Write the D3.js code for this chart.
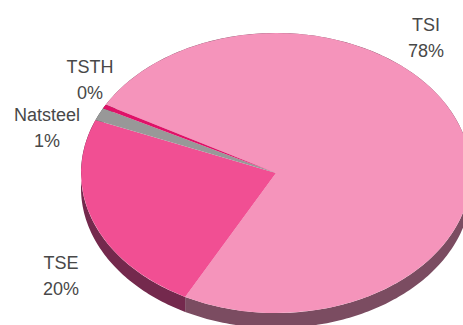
<!DOCTYPE html>
<html>
<head>
<meta charset="utf-8">
<style>
  html, body { margin: 0; padding: 0; background: #fff; overflow: hidden; }
  svg { display: block; }
  text { font-family: "Liberation Sans", Arial, sans-serif; font-size: 18px; fill: #484848; text-anchor: middle; }
</style>
<script src="https://cdn.jsdelivr.net/npm/d3@7"></script>
</head>
<body>
<script>
// Shareholding split, listed in drawing order around the pie
const companies = ["TSI", "TSE", "Natsteel", "TSTH"];
const shares = [78, 20, 1.4, 0.45];
const shareLabels = ["78%", "20%", "1%", "0%"];

const topColors = ["#f594bb", "#f14f93", "#989898", "#df1268"];
const wallColors = ["#7b4c61", "#74294d", "#4c4c4c", "#70093a"];

// Pie geometry
const width = 463, height = 325;
const cx = 276, cy = 173, rx = 195, ry = 140, depth = 15;

// Tilted view: slices nearest the front-left appear wider
const deg = Math.PI / 180;
const startAngle = -67.3 * deg;
const wideAt = 249.5 * deg, warp = 6.5 * deg;
const project = a => a + warp * Math.sin(2 * (a - wideAt));

// Label anchors, first-line baseline
const labelSpots = [[426, 31], [61, 269], [47, 121], [90, 73]];
const lineGap = 25.5;

const svg = d3.select("body").append("svg")
  .attr("width", width).attr("height", height);

const slices = d3.pie().sort(null)
  .startAngle(startAngle).endAngle(startAngle + 2 * Math.PI)(shares);

// Side walls, following the rim of each slice
const rimX = a => cx + rx * Math.sin(a);
const rimY = a => cy - ry * Math.cos(a);
const wall = d3.area()
  .x(rimX)
  .y0(rimY)
  .y1(a => rimY(a) + depth);

svg.append("g").selectAll("path").data(slices).join("path")
  .attr("fill", (d, i) => wallColors[i])
  .attr("d", d => {
    const a0 = project(d.startAngle), a1 = project(d.endAngle);
    const n = Math.max(2, Math.ceil((a1 - a0) / (1 * deg)));
    return wall(d3.range(n + 1).map(k => a0 + (a1 - a0) * k / n));
  });

// Top face
const arc = d3.arc().innerRadius(0).outerRadius(rx);
svg.append("g")
  .attr("transform", `translate(${cx},${cy}) scale(1,${ry / rx})`)
  .selectAll("path").data(slices).join("path")
  .attr("fill", (d, i) => topColors[i])
  .attr("d", d => arc({ startAngle: project(d.startAngle), endAngle: project(d.endAngle) }));

// Two-line labels: name over percentage
const labels = svg.append("g").selectAll("text").data(companies).join("text")
  .attr("transform", (d, i) => `translate(${labelSpots[i][0]},${labelSpots[i][1]})`);
labels.append("tspan").attr("x", 0).attr("y", 0).text(d => d);
labels.append("tspan").attr("x", 0).attr("y", lineGap).text((d, i) => shareLabels[i]);
</script>
</body>
</html>
